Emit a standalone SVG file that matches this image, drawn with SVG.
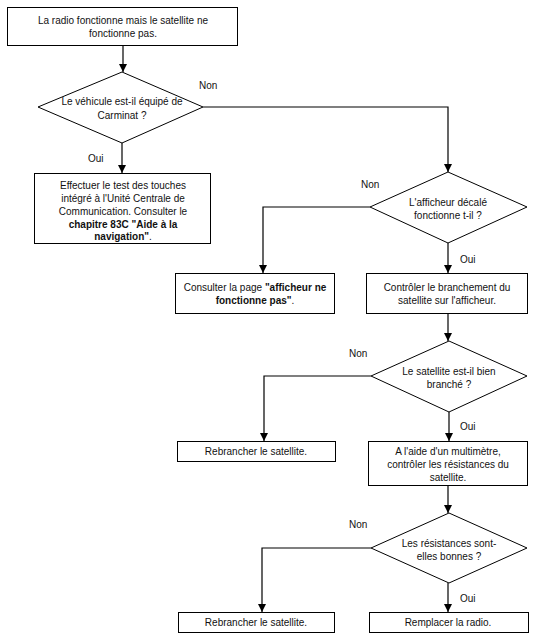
<svg xmlns="http://www.w3.org/2000/svg" width="539" height="635" viewBox="0 0 539 635">
<style>
.box{fill:#fff;stroke:#000;stroke-width:1}
.t{font-family:"Liberation Sans",Arial,sans-serif;font-size:10px;fill:#111;text-anchor:middle}
.b{font-weight:bold}
.lbl{font-family:"Liberation Sans",Arial,sans-serif;font-size:10px;fill:#111}
.c{fill:none;stroke:#000;stroke-width:1.2}
</style>
<defs>
<marker id="ah" viewBox="0 0 8 8" refX="8" refY="4" markerWidth="8" markerHeight="8" markerUnits="userSpaceOnUse" orient="auto">
<path d="M0,0 L8,4 L0,8 z" fill="#000"/>
</marker>
</defs>
<rect width="539" height="635" fill="#fff"/>
<g id="connectors">
<path class="c" d="M123,46 V72" marker-end="url(#ah)"/>
<path class="c" d="M122,143 V173" marker-end="url(#ah)"/>
<path class="c" d="M203,107 H448 V172" marker-end="url(#ah)"/>
<path class="c" d="M370,207 H263 V273" marker-end="url(#ah)"/>
<path class="c" d="M448,243 V273" marker-end="url(#ah)"/>
<path class="c" d="M448,313 V341" marker-end="url(#ah)"/>
<path class="c" d="M371,376 H264 V441" marker-end="url(#ah)"/>
<path class="c" d="M449,412 V441" marker-end="url(#ah)"/>
<path class="c" d="M448,485 V513" marker-end="url(#ah)"/>
<path class="c" d="M371,548 H262 V612" marker-end="url(#ah)"/>
<path class="c" d="M448,583 V612" marker-end="url(#ah)"/>
<text class="lbl" x="199" y="89">Non</text>
<text class="lbl" x="88" y="162">Oui</text>
<text class="lbl" x="361" y="188">Non</text>
<text class="lbl" x="460" y="263">Oui</text>
<text class="lbl" x="349" y="357">Non</text>
<text class="lbl" x="460" y="430">Oui</text>
<text class="lbl" x="349" y="528">Non</text>
<text class="lbl" x="460" y="602">Oui</text>
</g>
<g id="n1">
<rect class="box" x="7.5" y="7.5" width="230" height="38"/>
<text class="t" x="123" y="24">La radio fonctionne mais le satellite ne</text>
<text class="t" x="123" y="37">fonctionne pas.</text>
</g>
<g id="d1">
<polygon class="box" points="122,72 203,107 122,143 38,107"/>
<text class="t" x="122" y="105">Le véhicule est-il équipé de</text>
<text class="t" x="122" y="119">Carminat ?</text>
</g>
<g id="n2">
<rect class="box" x="34.5" y="173.5" width="176" height="70"/>
<text class="t" x="123" y="189">Effectuer le test des touches</text>
<text class="t" x="123" y="202">intégré à l'Unité Centrale de</text>
<text class="t" x="123" y="215">Communication. Consulter le</text>
<text class="t b" x="123" y="228">chapitre 83C "Aide à la</text>
<text class="t" x="123" y="240"><tspan class="b">navigation"</tspan>.</text>
</g>
<g id="d2">
<polygon class="box" points="448,172 527,207 448,243 370,207"/>
<text class="t" x="448" y="206">L'afficheur décalé</text>
<text class="t" x="448" y="219">fonctionne t-il ?</text>
</g>
<g id="n3">
<rect class="box" x="175.5" y="273.5" width="159" height="40"/>
<text class="t" x="255" y="291">Consulter la page <tspan class="b">"afficheur ne</tspan></text>
<text class="t" x="255" y="304"><tspan class="b">fonctionne pas"</tspan>.</text>
</g>
<g id="n4">
<rect class="box" x="366.5" y="273.5" width="161" height="40"/>
<text class="t" x="447" y="291">Contrôler le branchement du</text>
<text class="t" x="447" y="304">satellite sur l'afficheur.</text>
</g>
<g id="d3">
<polygon class="box" points="449,341 527,376 449,412 371,376"/>
<text class="t" x="449" y="375">Le satellite est-il bien</text>
<text class="t" x="449" y="388">branché ?</text>
</g>
<g id="n5">
<rect class="box" x="177.5" y="441.5" width="158" height="20"/>
<text class="t" x="256" y="455">Rebrancher le satellite.</text>
</g>
<g id="n6">
<rect class="box" x="368.5" y="441.5" width="159" height="44"/>
<text class="t" x="448" y="455">A l'aide d'un multimètre,</text>
<text class="t" x="448" y="468">contrôler les résistances du</text>
<text class="t" x="448" y="481">satellite.</text>
</g>
<g id="d4">
<polygon class="box" points="449,513 527,548 449,583 371,548"/>
<text class="t" x="449" y="547">Les résistances sont-</text>
<text class="t" x="449" y="560">elles bonnes ?</text>
</g>
<g id="n7">
<rect class="box" x="178.5" y="612.5" width="156" height="20"/>
<text class="t" x="256" y="626">Rebrancher le satellite.</text>
</g>
<g id="n8">
<rect class="box" x="369.5" y="612.5" width="159" height="20"/>
<text class="t" x="448" y="626">Remplacer la radio.</text>
</g>
</svg>
